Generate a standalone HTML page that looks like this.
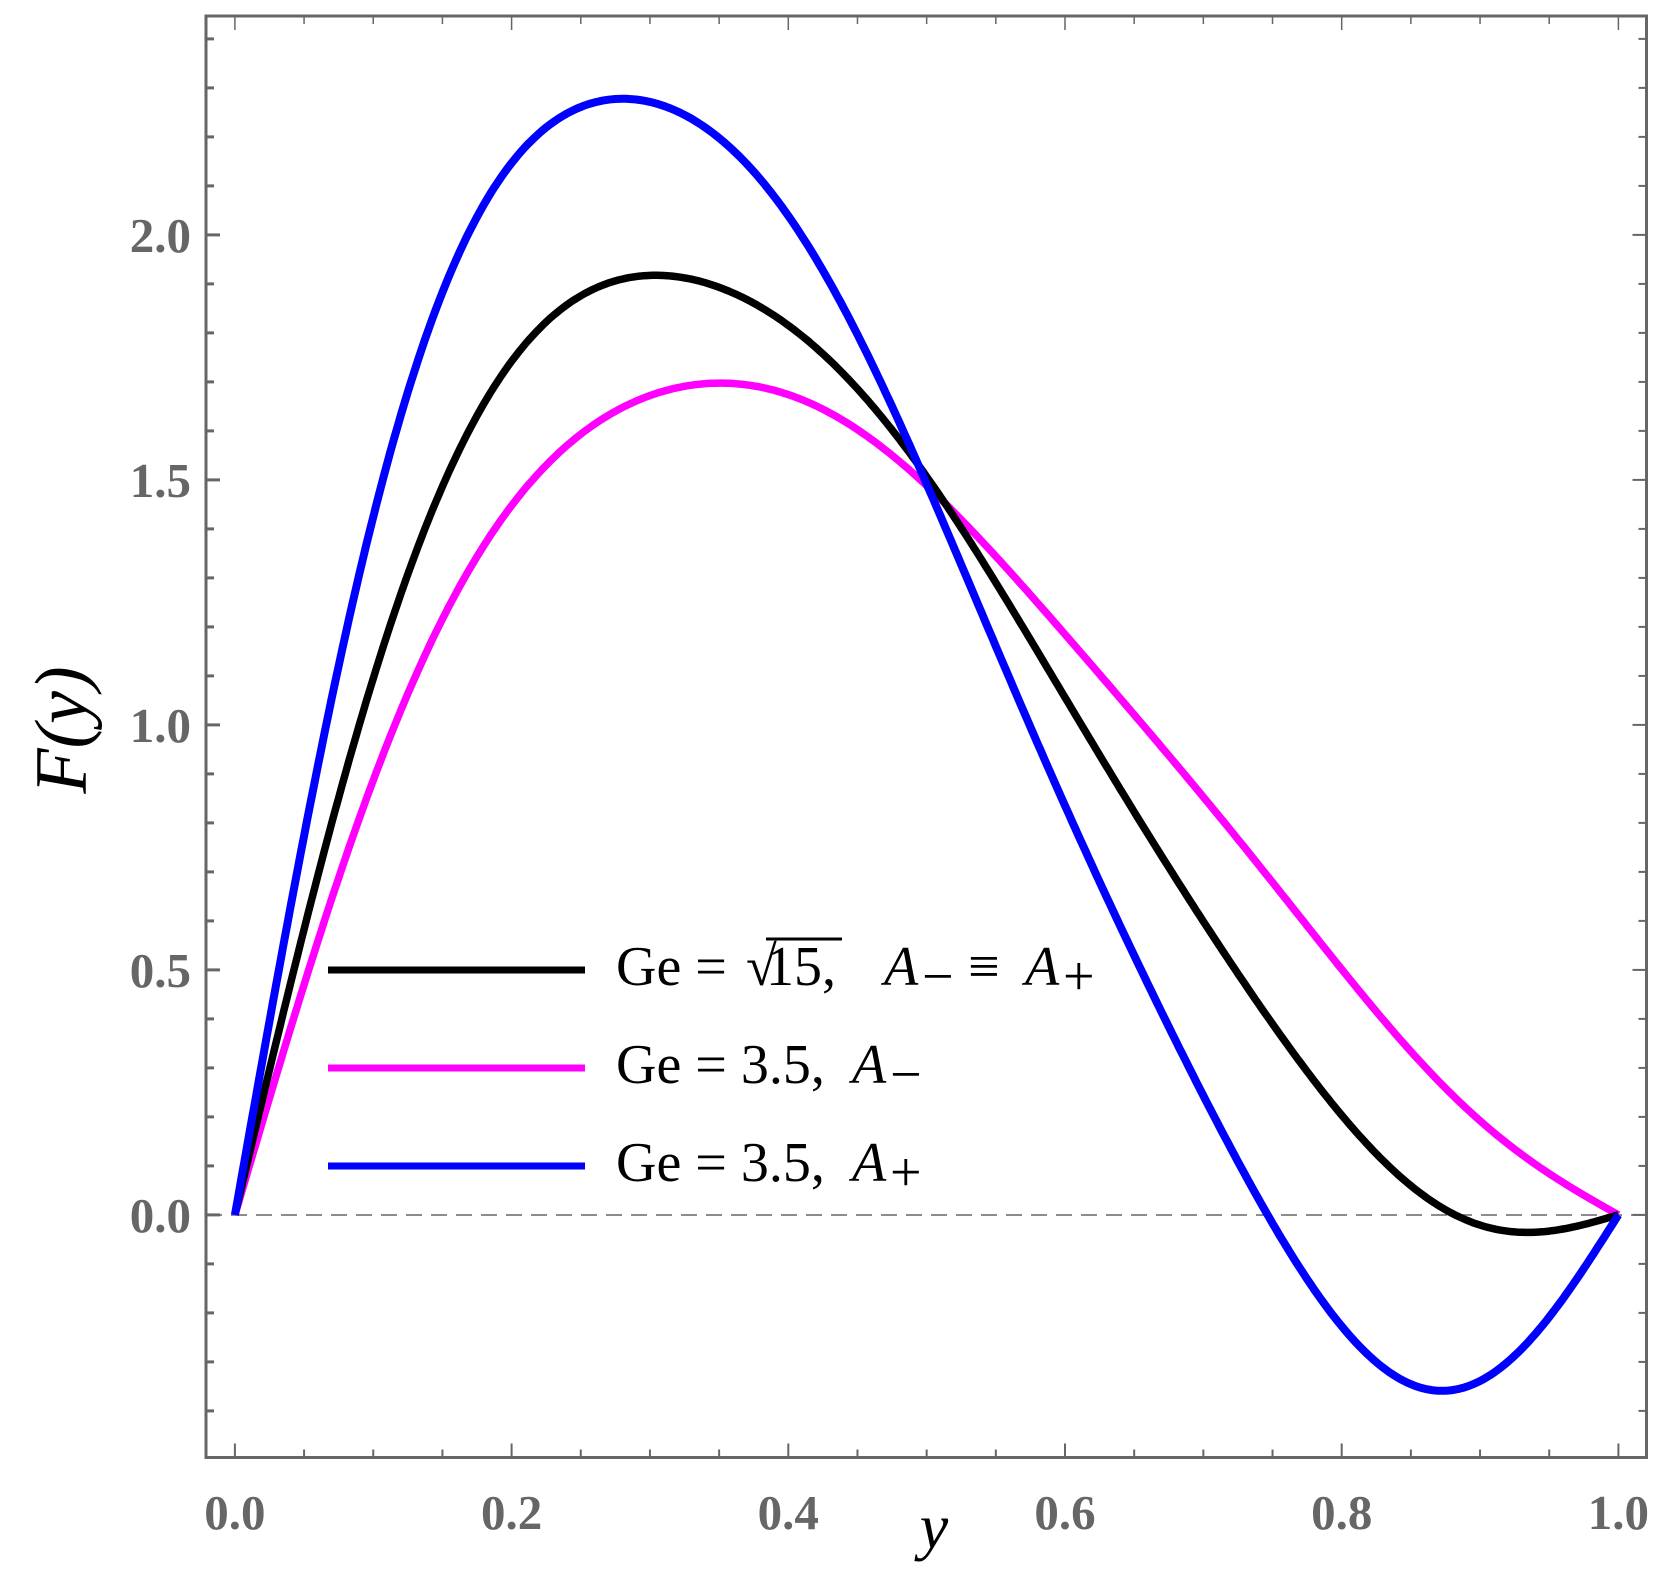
<!DOCTYPE html>
<html><head><meta charset="utf-8"><style>
html,body{margin:0;padding:0;background:#fff;}
svg{display:block;}
.tl{font-family:"Liberation Serif",serif;font-weight:bold;font-size:49px;fill:#666;}
.lg{font-family:"Liberation Serif",serif;font-size:56px;fill:#000;}
</style></head><body>
<svg id="s" width="1678" height="1593" viewBox="0 0 1678 1593" xmlns="http://www.w3.org/2000/svg">
<rect x="0" y="0" width="1678" height="1593" fill="#fff"/>
<g id="ticks" stroke="#666" stroke-width="2"></g>
<line x1="206" y1="1215" x2="1646" y2="1215" stroke="#666" stroke-width="1.5" stroke-dasharray="16,9"/>
<path id="cm" fill="none" stroke="#ff00ff" stroke-width="7.5" stroke-linejoin="round"/>
<path id="ck" fill="none" stroke="#000" stroke-width="7.5" stroke-linejoin="round"/>
<path id="cb" fill="none" stroke="#0000ff" stroke-width="8" stroke-linejoin="round"/>
<rect x="206" y="16" width="1440.5" height="1441.5" fill="none" stroke="#666" stroke-width="3"/>
<g id="labels"></g>
<line x1="328" y1="970" x2="585" y2="970" stroke="#000" stroke-width="7"/>
<line x1="328" y1="1068" x2="585" y2="1068" stroke="#ff00ff" stroke-width="7"/>
<line x1="328" y1="1166" x2="585" y2="1166" stroke="#0000ff" stroke-width="7"/>
<text class="lg" x="616" y="985">Ge = </text>
<text class="lg" x="746" y="985">√</text>
<line x1="766" y1="939" x2="842" y2="939" stroke="#000" stroke-width="3"/>
<text class="lg" x="766" y="985">15,</text>
<text class="lg" x="884" y="985" font-style="italic">A</text>
<text class="lg" x="922" y="995" font-size="38">−</text>
<text class="lg" x="968" y="985">≡</text>
<text class="lg" x="1025" y="985" font-style="italic">A</text>
<text class="lg" x="1063" y="995" font-size="38">+</text>
<text class="lg" x="616" y="1083">Ge = 3.5,</text>
<text class="lg" x="852" y="1083" font-style="italic">A</text>
<text class="lg" x="890" y="1093" font-size="38">−</text>
<text class="lg" x="616" y="1181">Ge = 3.5,</text>
<text class="lg" x="852" y="1181" font-style="italic">A</text>
<text class="lg" x="890" y="1191" font-size="38">+</text>
<text x="934" y="1548" font-family="Liberation Serif,serif" font-style="italic" font-size="64" text-anchor="middle">y</text>
<text transform="translate(86,730) rotate(-90)" font-family="Liberation Serif,serif" font-style="italic" font-size="74" text-anchor="middle">F(y)</text>
</svg>
<script>
(function(){
var NS="http://www.w3.org/2000/svg";
var X0=234.9,XS=1383.5,Y0=1214.9,YS=490;
var tg=document.getElementById('ticks'),lg=document.getElementById('labels');
function ln(x1,y1,x2,y2,w){var l=document.createElementNS(NS,'line');l.setAttribute('x1',x1);l.setAttribute('y1',y1);l.setAttribute('x2',x2);l.setAttribute('y2',y2);if(w)l.setAttribute('stroke-width',w);tg.appendChild(l);}
function tx(x,y,s,a){var t=document.createElementNS(NS,'text');t.setAttribute('x',x);t.setAttribute('y',y);t.setAttribute('class','tl');t.setAttribute('text-anchor',a);t.textContent=s;lg.appendChild(t);}
for(var i=0;i<=20;i++){var x=X0+XS*i*0.05;var L=(i%4==0)?14:8;ln(x,1457.5,x,1457.5-L,2);ln(x,16,x,16+L,1.5);}
for(var i=-5;i<=24;i++){var y=Y0-YS*i*0.1;if(y<17||y>1456)continue;var L=(i%5==0)?14:8;ln(206,y,206+L,y,3);ln(1646.5,y,1646.5-L,y,2);}
for(var i=0;i<=5;i++){tx(X0+XS*i*0.2,1529,(i*0.2).toFixed(1),'middle');}
for(var i=0;i<=4;i++){tx(191,Y0-YS*i*0.5+17,(i*0.5).toFixed(1),'end');}
var K=7;
function fit(pts){
 var n=K,M=[],b=[],i,j,k;
 for(i=0;i<n;i++){M.push(new Array(n).fill(0));b.push(0);}
 pts.forEach(function(p){var s=[];for(k=0;k<n;k++)s.push(Math.sin((k+1)*Math.PI*p[0]));
  for(i=0;i<n;i++){b[i]+=s[i]*p[1];for(j=0;j<n;j++)M[i][j]+=s[i]*s[j];}});
 for(i=0;i<n;i++)M[i][i]+=1e-6;
 for(i=0;i<n;i++){var piv=i;for(j=i+1;j<n;j++)if(Math.abs(M[j][i])>Math.abs(M[piv][i]))piv=j;
  var t=M[i];M[i]=M[piv];M[piv]=t;t=b[i];b[i]=b[piv];b[piv]=t;
  for(j=i+1;j<n;j++){var f=M[j][i]/M[i][i];for(k=i;k<n;k++)M[j][k]-=f*M[i][k];b[j]-=f*b[i];}}
 var c=new Array(n).fill(0);
 for(i=n-1;i>=0;i--){var s2=b[i];for(k=i+1;k<n;k++)s2-=M[i][k]*c[k];c[i]=s2/M[i][i];}
 return c;}
function path(pts){var c=fit(pts),d='';
 for(var i=0;i<=400;i++){var x=i/400,v=0;for(var k=0;k<K;k++)v+=c[k]*Math.sin((k+1)*Math.PI*x);
  d+=(i?' L':'M')+(X0+XS*x).toFixed(1)+','+(Y0-YS*v).toFixed(1);}
 return d;}
var blue=[[0,0],[.0319,.475],[.0572,.908],[.0757,1.163],[.0959,1.400],[.1195,1.619],[.1497,1.847],[.1834,2.056],[.2171,2.189],[.2507,2.270],[.2826,2.298],[.3112,2.279],[.3449,2.217],[.3785,2.113],[.4122,1.970],[.4526,1.752],[.4952,1.530],[.5293,1.319],[.5634,1.088],[.5975,.856],[.6317,.628],[.6657,.425],[.6998,.235],[.7408,.023],[.7851,-.160],[.8363,-.305],[.8806,-.348],[.9216,-.314],[.9625,-.198],[1,0]];
var black=[[0,0],[.0319,.323],[.0589,.656],[.0774,.908],[.0993,1.106],[.1195,1.267],[.1464,1.456],[.1767,1.638],[.2103,1.780],[.2440,1.866],[.2776,1.904],[.3112,1.915],[.3449,1.899],[.3785,1.856],[.4122,1.790],[.4458,1.704],[.4896,1.557],[.5089,1.453],[.5464,1.299],[.5805,1.155],[.6146,.991],[.6487,.837],[.6828,.673],[.7169,.519],[.7510,.384],[.7681,.312],[.8022,.199],[.8363,.100],[.8704,.028],[.9045,-.025],[.9454,-.049],[.9796,-.025],[1,0]];
var mag=[[0,0],[.0386,.323],[.0724,.684],[.1010,.908],[.1228,1.049],[.1498,1.210],[.1834,1.380],[.2171,1.505],[.2507,1.590],[.2843,1.657],[.3180,1.690],[.3516,1.700],[.3853,1.685],[.4189,1.647],[.4526,1.595],[.4930,1.514],[.5464,1.357],[.5975,1.184],[.6487,1.030],[.6998,.856],[.7510,.673],[.8022,.490],[.8533,.327],[.9011,.194],[.9386,.100],[.9727,.042],[1,0]];
document.getElementById('cb').setAttribute('d',path(blue));
document.getElementById('ck').setAttribute('d',path(black));
document.getElementById('cm').setAttribute('d',path(mag));
})();
</script>
</body></html>
